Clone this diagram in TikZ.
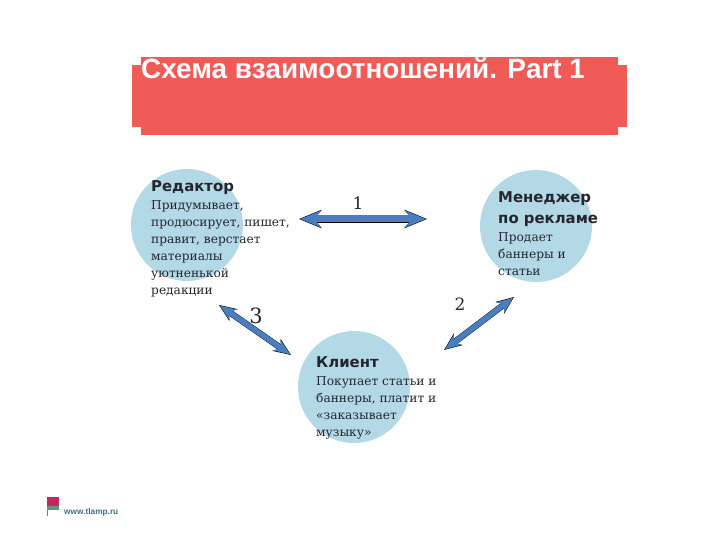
\documentclass[tikz,border=0pt]{standalone}
\usepackage{fontspec}
\setmainfont{DejaVu Serif}
\setsansfont{Liberation Sans}
\newfontfamily\headfont{DejaVu Sans}
\usetikzlibrary{arrows.meta}
\definecolor{barred}{HTML}{F15B57}
\definecolor{roundblue}{HTML}{B3D9E6}
\definecolor{arrowblue}{HTML}{4A7FBF}
\definecolor{inkdark}{HTML}{25252F}
\definecolor{logored}{HTML}{C8245F}
\definecolor{logogreen}{HTML}{5E9A78}
\definecolor{logotext}{HTML}{3B6F8C}
\tikzset{
  actor/.style={circle,fill=roundblue,minimum size=112pt,inner sep=0pt},
  headtext/.style={anchor=north west,inner sep=0pt,align=left,text=inkdark,font=\headfont\bfseries\fontsize{14.9}{21.5}\selectfont},
  bodytext/.style={anchor=north west,inner sep=0pt,align=left,text=inkdark,font=\fontsize{12.2}{17}\selectfont},
  numtext/.style={inner sep=0pt,text=inkdark,font=\fontsize{17}{17}\selectfont},
  blockout/.style={draw=black,line width=#1+0.7pt,{Stealth[length=3.2*#1,width=2.6*#1]}-{Stealth[length=3.2*#1,width=2.6*#1]}},
  blockin/.style={draw=arrowblue,line width=#1,shorten >=1.2pt,shorten <=1.2pt,{Stealth[length=3.2*#1-1.6pt,width=2.6*#1-1.6pt]}-{Stealth[length=3.2*#1-1.6pt,width=2.6*#1-1.6pt]}},
}
\begin{document}
\begin{tikzpicture}[x=1pt,y=-1pt]
  \useasboundingbox (0,0) rectangle (720,540);
  % title bar
  \fill[barred] (132,65) rectangle (627,127);
  \fill[barred] (141,57) rectangle (618,135);
  \node[anchor=west,inner sep=0pt,text=white,font=\sffamily\bfseries\fontsize{27.9}{28}\selectfont] (title) at (141,68) {Схема взаимоотношений. Part 1};
  % circles
  \node[actor] (editor) at (187,225) {};
  \node[actor] (manager) at (536,226) {};
  \node[actor] (client) at (354,387) {};
  % texts
  \node[headtext] (editorhead) at (151,180) {Редактор};
  \node[bodytext] (editorbody) at (151,200) {Придумывает,\\продюсирует, пишет,\\правит, верстает\\материалы\\уютненькой\\редакции};
  \node[headtext] (managerhead) at (498,191) {Менеджер\\по рекламе};
  \node[bodytext] (managerbody) at (498,232) {Продает\\баннеры и\\статьи};
  \node[headtext] (clienthead) at (316,356) {Клиент};
  \node[bodytext] (clientbody) at (316,376) {Покупает статьи и\\баннеры, платит и\\«заказывает\\музыку»};
  % arrows
  \coordinate (oneleft) at (299,219);
  \coordinate (oneright) at (427,219);
  \coordinate (twotop) at (514,297);
  \coordinate (twobottom) at (444,350);
  \coordinate (threetop) at (219,305);
  \coordinate (threebottom) at (291,355);
  \foreach \from/\to/\wide in {oneleft/oneright/7pt,twotop/twobottom/5.5pt,threetop/threebottom/5.5pt}{
    \draw[blockout=\wide] (\from) -- (\to);
    \draw[blockin=\wide] (\from) -- (\to);
  }
  \node[numtext] (numone) at (358,203) {1};
  \node[numtext] (numtwo) at (460,304) {2};
  \node[numtext,font=\fontsize{21}{21}\selectfont] (numthree) at (256,316) {3};
  % logo
  \fill[logored] (47,497) rectangle (59,506);
  \fill[logogreen] (47,506) rectangle (59,510);
  \draw[gray,line width=1pt] (47.5,510) -- (47.5,516);
  \node[anchor=west,inner sep=0pt,text=logotext,font=\sffamily\bfseries\fontsize{8.3}{8}\selectfont] (logotext) at (64,512) {www.tlamp.ru};
\end{tikzpicture}
\end{document}
